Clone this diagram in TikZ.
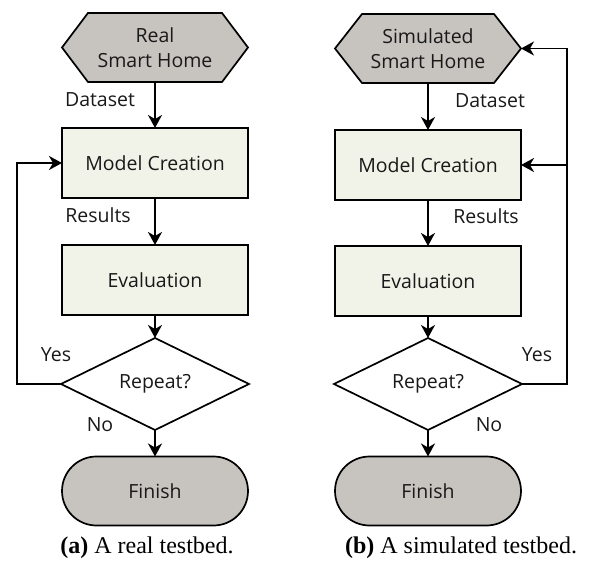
\documentclass[tikz,border=0pt]{standalone}
\usepackage{fontspec}
\setmainfont{Open Sans}
\newfontfamily\capfont{Liberation Serif}
\usetikzlibrary{shapes.geometric,shapes.misc,arrows.meta,calc}
\definecolor{hexgray}{RGB}{199,196,191}
\definecolor{boxcream}{RGB}{242,243,232}
\begin{document}
\begin{tikzpicture}[x=1pt,y=-1pt,
  txt/.style={font=\fontsize{19.5}{25}\selectfont, text=black!90},
  base/.style={txt, line width=1.7pt, draw=black, outer sep=0pt},
  procbox/.style={base, rectangle, fill=boxcream, minimum width=186pt, minimum height=70pt, inner sep=0pt},
  termbox/.style={base, rounded rectangle, fill=hexgray, minimum width=186pt, minimum height=69pt, inner sep=0pt},
  decbox/.style={base, diamond, fill=white, minimum width=188pt, minimum height=92pt, inner sep=0pt},
  hexframe/.style={rectangle, draw=none, minimum width=186pt, minimum height=69pt, inner sep=0pt, outer sep=0pt},
  hexshape/.style={line width=1.7pt, draw=black, fill=hexgray, line join=miter},
  hextext/.style={txt, align=center, inner sep=0pt},
  lbl/.style={txt, inner sep=0pt},
  flow/.style={line width=1.7pt, -{Stealth[length=13pt,width=14pt,inset=4pt]}},
  capstyle/.style={font=\capfont\fontsize{24}{28}\selectfont, text=black, inner sep=0pt}
]
\useasboundingbox (0,0) rectangle (592,572);

% ---------- (a) real testbed ----------
\node[hexframe] (h1) at (155,47.5) {};
\draw[hexshape] (h1.west) -- ($(h1.north west)+(26,0)$) -- ($(h1.north east)+(-26,0)$)
  -- (h1.east) -- ($(h1.south east)+(-26,0)$) -- ($(h1.south west)+(26,0)$) -- cycle;
\node[hextext] (h1t) at (h1) {Real\\Smart Home};
\node[procbox] (m1) at (155,163) {Model Creation};
\node[procbox] (e1) at (155,280) {Evaluation};
\node[decbox] (d1) at (155,384) {Repeat?};
\node[termbox] (f1) at (155,491) {Finish};
\coordinate (l1) at (17,0);

\draw[flow] (h1.south) -- (m1.north);
\draw[flow] (m1.south) -- (e1.north);
\draw[flow] (e1.south) -- (d1.north);
\draw[flow] (d1.south) -- (f1.north);
\draw[flow] (d1.west) -- (d1.west -| l1) |- (m1.west);

\node[lbl] (ds1) at (100,100) {Dataset};
\node[lbl] (rs1) at (98,215) {Results};
\node[lbl] (y1) at (56,355) {Yes};
\node[lbl] (n1) at (100,425) {No};

% ---------- (b) simulated testbed ----------
\node[hexframe] (h2) at (428,48.5) {};
\draw[hexshape] (h2.west) -- ($(h2.north west)+(27,0)$) -- ($(h2.north east)+(-27,0)$)
  -- (h2.east) -- ($(h2.south east)+(-27,0)$) -- ($(h2.south west)+(27,0)$) -- cycle;
\node[hextext] (h2t) at (h2) {Simulated\\Smart Home};
\node[procbox] (m2) at (428,165) {Model Creation};
\node[procbox] (e2) at (428,281) {Evaluation};
\node[decbox] (d2) at (428,384) {Repeat?};
\node[termbox] (f2) at (428,491) {Finish};
\coordinate (r2) at (567,0);

\draw[flow] (h2.south) -- (m2.north);
\draw[flow] (m2.south) -- (e2.north);
\draw[flow] (e2.south) -- (d2.north);
\draw[flow] (d2.south) -- (f2.north);
\draw[flow] (d2.east) -- (d2.east -| r2) |- (h2.east);
\draw[flow] (m2.east -| r2) -- (m2.east);

\node[lbl] (ds2) at (490,101) {Dataset};
\node[lbl] (rs2) at (486,216) {Results};
\node[lbl] (y2) at (537,355) {Yes};
\node[lbl] (n2) at (489,425) {No};

% ---------- captions ----------
\node[capstyle] (ca) at (147,548) {\textbf{(a)} A real testbed.};
\node[capstyle] (cb) at (461,548) {\textbf{(b)} A simulated testbed.};
\end{tikzpicture}
\end{document}
